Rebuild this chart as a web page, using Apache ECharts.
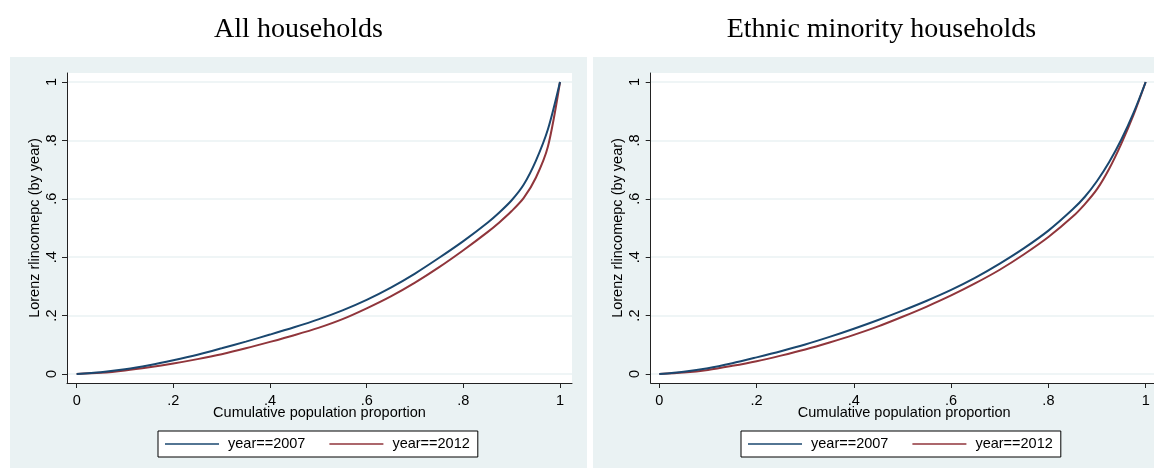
<!DOCTYPE html>
<html>
<head>
<meta charset="utf-8">
<script src="https://cdn.jsdelivr.net/npm/echarts@6/dist/echarts.min.js"></script>
<style>html,body{margin:0;padding:0;background:#fff}#c{width:1154px;height:468px}</style>
</head>
<body>
<div id="c"></div>
<script>
// ---- data ----
var panelTitles = ['All households', 'Ethnic minority households'];
var seriesNames = ['year==2007', 'year==2012'];
var P = [0,0.05,0.1,0.15,0.2,0.25,0.3,0.35,0.4,0.45,0.5,0.55,0.6,0.65,0.7,0.75,0.8,0.85,0.875,0.9,0.925,0.95,0.975,1];
var allBlue = [0,0.006,0.016,0.030,0.047,0.066,0.088,0.111,0.135,0.160,0.187,0.218,0.254,0.296,0.344,0.398,0.455,0.518,0.554,0.595,0.649,0.730,0.838,1];
var allRed  = [0,0.004,0.012,0.023,0.036,0.051,0.068,0.088,0.110,0.133,0.158,0.188,0.225,0.266,0.313,0.366,0.424,0.486,0.520,0.558,0.603,0.672,0.779,1];
var ethBlue = [0,0.008,0.020,0.037,0.057,0.078,0.101,0.127,0.155,0.185,0.217,0.251,0.288,0.330,0.378,0.431,0.491,0.564,0.607,0.661,0.726,0.803,0.894,1];
var ethRed  = [0,0.005,0.014,0.028,0.044,0.063,0.084,0.108,0.134,0.163,0.196,0.231,0.269,0.311,0.357,0.410,0.469,0.539,0.582,0.633,0.703,0.789,0.887,1];
var tickValues = [0,0.2,0.4,0.6,0.8,1];
var tickLabels = ['0','.2','.4','.6','.8','1'];

var NAVY = '#1A476F', MAROON = '#90353B', BG = '#EAF2F3';
var FONT = 'Liberation Sans, Arial, sans-serif';

function pairs(xs, ys){ return xs.map(function(x,i){ return [x, ys[i]]; }); }
function fmt(v){ var i = tickValues.indexOf(Math.round(v*10)/10); return i>=0 ? tickLabels[i] : ''; }

var panels = [
  {bgX:10, gridLeft:67, gridWidth:505, xMin:-0.02, xMax:1.0248, blue:allBlue, red:allRed},
  {bgX:593, gridLeft:650.7, gridWidth:507, xMin:-0.0177, xMax:1.0247, blue:ethBlue, red:ethRed}
];

var grids=[], xAxes=[], yAxes=[], series=[], legends=[], graphics=[];
panels.forEach(function(p, k){
  graphics.push({type:'rect', z:-10, silent:true, shape:{x:p.bgX, y:57, width:577, height:420}, style:{fill:BG}});
  graphics.push({type:'text', z:10, x:p.bgX+288.5, y:16, style:{text:panelTitles[k], fill:'#000', font:'28px "Liberation Serif", "Times New Roman", serif', textAlign:'center', textVerticalAlign:'top'}});
  grids.push({left:p.gridLeft, top:73, width:p.gridWidth, height:310, show:true, backgroundColor:'#fff', borderWidth:0, outerBoundsMode:'none', containLabel:false});
  xAxes.push({type:'value', gridIndex:k, min:p.xMin, max:p.xMax,
    name:'Cumulative population proportion', nameLocation:'middle', nameGap:22, nameMoveOverlap:false,
    nameTextStyle:{fontFamily:FONT, fontSize:14.5, color:'#000'},
    axisLine:{show:true, onZero:false, lineStyle:{color:'#222', width:1}},
    axisTick:{show:true, customValues:tickValues, length:5, lineStyle:{color:'#222'}},
    axisLabel:{show:true, customValues:tickValues, formatter:fmt, margin:10, fontFamily:FONT, fontSize:14.5, color:'#000'},
    splitLine:{show:false}});
  yAxes.push({type:'value', gridIndex:k, min:-0.0308, max:1.0308,
    name:'Lorenz rlincomepc (by year)', nameLocation:'middle', nameGap:25, nameMoveOverlap:false,
    nameTextStyle:{fontFamily:FONT, fontSize:14.5, color:'#000'},
    axisLine:{show:true, onZero:false, lineStyle:{color:'#222', width:1}},
    axisTick:{show:true, customValues:tickValues, length:5, lineStyle:{color:'#222'}},
    axisLabel:{show:true, customValues:tickValues, formatter:fmt, rotate:90, margin:8, fontFamily:FONT, fontSize:14.5, color:'#000'},
    splitLine:{show:true, lineStyle:{color:BG, width:1.5}}});
  series.push({name:seriesNames[0], type:'line', xAxisIndex:k, yAxisIndex:k, data:pairs(P,p.blue), showSymbol:false, symbol:'none', smooth:0.3, lineStyle:{color:NAVY, width:2}, itemStyle:{color:NAVY}, z:3});
  series.push({name:seriesNames[1], type:'line', xAxisIndex:k, yAxisIndex:k, data:pairs(P,p.red), showSymbol:false, symbol:'none', smooth:0.3, lineStyle:{color:MAROON, width:2}, itemStyle:{color:MAROON}, z:2});
  legends.push({left:p.bgX+148, top:431, orient:'horizontal', data:seriesNames, icon:'rect', itemWidth:54, itemHeight:1.5, itemGap:24,
    borderColor:'#000', borderWidth:1, backgroundColor:'#fff', padding:[5,8,5,7], selectedMode:false,
    textStyle:{fontFamily:FONT, fontSize:14.5, color:'#000', lineHeight:16, padding:[0,0,0,4]}});
});

var chart = echarts.init(document.getElementById('c'), null, {renderer:'canvas'});
chart.setOption({
  animation:false,
  backgroundColor:'#fff',
  graphic:graphics,
  grid:grids, xAxis:xAxes, yAxis:yAxes, legend:legends, series:series
});
</script>
</body>
</html>
